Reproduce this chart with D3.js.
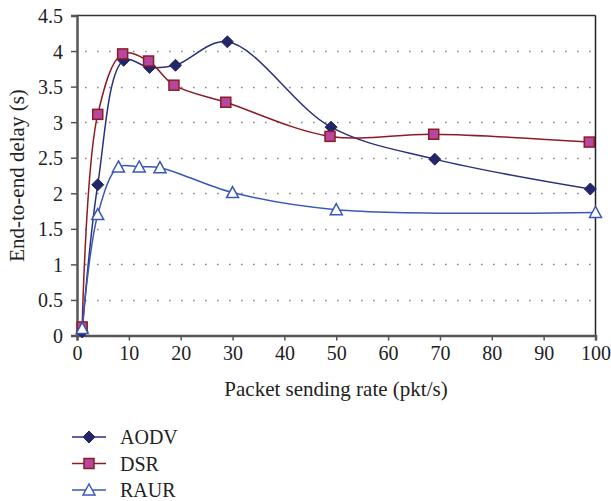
<!DOCTYPE html>
<html>
<head>
<meta charset="utf-8">
<script src="https://cdn.jsdelivr.net/npm/d3@7"></script>
<style>
  body { margin: 0; background: #fff; }
</style>
</head>
<body>
<div id="chart"></div>
<script>
// Data
const aodvX = [1, 4, 9, 14, 19, 29, 49, 69, 99];
const aodvY = [0.05, 2.12, 3.87, 3.77, 3.80, 4.13, 2.93, 2.48, 2.06];
const dsrX = [1, 4, 8.8, 13.8, 18.7, 28.7, 48.8, 68.8, 98.8];
const dsrY = [0.12, 3.11, 3.96, 3.86, 3.52, 3.28, 2.80, 2.83, 2.72];
const raurX = [1, 4, 8, 12, 16, 30, 50, 100];
const raurY = [0.10, 1.70, 2.37, 2.37, 2.36, 2.01, 1.77, 1.73];
const xTicks = [0, 10, 20, 30, 40, 50, 60, 70, 80, 90, 100];
const yTicks = [0, 0.5, 1, 1.5, 2, 2.5, 3, 3.5, 4, 4.5];
const seriesNames = ['AODV', 'DSR', 'RAUR'];

const FONT = 'Liberation Serif';
const width = 611, height = 501;
const margin = { top: 15.5, right: 15.5, bottom: 166, left: 77 };

const svg = d3.select('#chart').append('svg')
  .attr('width', width)
  .attr('height', height)
  .attr('font-family', FONT);

const x = d3.scaleLinear().domain([0, 100]).range([margin.left, width - margin.right]);
const y = d3.scaleLinear().domain([0, 4.5]).range([height - margin.bottom + 0.5, margin.top]);

// Dotted gridlines
svg.append('g')
  .selectAll('line')
  .data(yTicks.filter(d => d > 0 && d < 4.5))
  .enter()
  .append('line')
  .attr('x1', x(0) + 8)
  .attr('x2', x(100))
  .attr('y1', d => Math.round(y(d)) + 0.5)
  .attr('y2', d => Math.round(y(d)) + 0.5)
  .attr('stroke', '#888')
  .attr('stroke-width', 1.6)
  .attr('stroke-dasharray', '1.6,10.4');

// Frame: top and right
svg.append('line')
  .attr('x1', x(0)).attr('x2', x(100))
  .attr('y1', y(4.5)).attr('y2', y(4.5))
  .attr('stroke', '#333').attr('stroke-width', 1.5);
svg.append('line')
  .attr('x1', x(100)).attr('x2', x(100))
  .attr('y1', y(4.5)).attr('y2', y(0))
  .attr('stroke', '#222').attr('stroke-width', 1.5);

// Axes
const xAxis = svg.append('g')
  .attr('transform', `translate(0,${y(0)})`)
  .call(d3.axisBottom(x).tickValues(xTicks).tickSize(5).tickPadding(5));
const yAxis = svg.append('g')
  .attr('transform', `translate(${x(0)},0)`)
  .call(d3.axisLeft(y).tickValues(yTicks).tickSize(6).tickPadding(8).tickFormat(d3.format('')));

[xAxis, yAxis].forEach(ax => {
  ax.attr('font-family', FONT);
  ax.selectAll('path').attr('stroke', '#555').attr('stroke-width', 2.5);
  ax.selectAll('line').attr('stroke', '#555').attr('stroke-width', 1.5);
  ax.selectAll('text')
    .attr('fill', '#222')
    .attr('font-family', FONT)
    .attr('font-size', '20px');
});
yAxis.selectAll('text').attr('dy', '0.35em');

// Axis titles
svg.append('text')
  .attr('x', 336)
  .attr('y', 396)
  .attr('text-anchor', 'middle')
  .attr('fill', '#222')
  .attr('font-family', FONT)
  .attr('font-size', '21px')
  .text('Packet sending rate (pkt/s)');

svg.append('text')
  .attr('transform', `translate(24,${y(2.25)}) rotate(-90)`)
  .attr('text-anchor', 'middle')
  .attr('fill', '#222')
  .attr('font-family', FONT)
  .attr('font-size', '21px')
  .text('End-to-end delay (s)');

// Series
const series = [
  { name: 'AODV', xs: aodvX, ys: aodvY, line: '#2b2f80', marker: 'diamond', fill: '#232768', stroke: '#232768' },
  { name: 'DSR', xs: dsrX, ys: dsrY, line: '#8c1c24', marker: 'square', fill: '#b5479e', stroke: '#8c1c24' },
  { name: 'RAUR', xs: raurX, ys: raurY, line: '#3a57b8', marker: 'triangle', fill: '#fff', stroke: '#3a57b8' }
];

const line = d3.line()
  .x(d => x(d[0]))
  .y(d => y(d[1]))
  .curve(d3.curveCatmullRom.alpha(0.5));

function drawMarker(g, type, cx, cy, s) {
  if (type === 'diamond') {
    g.append('path')
      .attr('d', `M${cx},${cy - 6}L${cx + 6},${cy}L${cx},${cy + 6}L${cx - 6},${cy}Z`)
      .attr('fill', s.fill).attr('stroke', s.stroke).attr('stroke-width', 1);
  } else if (type === 'square') {
    g.append('rect')
      .attr('x', cx - 5).attr('y', cy - 5)
      .attr('width', 10).attr('height', 10)
      .attr('fill', s.fill).attr('stroke', s.stroke).attr('stroke-width', 1.5);
  } else {
    g.append('path')
      .attr('d', `M${cx},${cy - 6}L${cx + 6},${cy + 5}L${cx - 6},${cy + 5}Z`)
      .attr('fill', s.fill).attr('stroke', s.stroke).attr('stroke-width', 1.5);
  }
}

series.forEach(s => {
  const pts = s.xs.map((v, i) => [v, s.ys[i]]);
  svg.append('path')
    .datum(pts)
    .attr('d', line)
    .attr('fill', 'none')
    .attr('stroke', s.line)
    .attr('stroke-width', 1.5);
});

series.forEach(s => {
  const g = svg.append('g');
  s.xs.forEach((v, i) => drawMarker(g, s.marker, x(v), y(s.ys[i]), s));
});

// Legend
const legend = svg.append('g');
series.forEach((s, i) => {
  const ly = 437 + i * 26.5;
  legend.append('line')
    .attr('x1', 72).attr('x2', 106)
    .attr('y1', ly).attr('y2', ly)
    .attr('stroke', s.line).attr('stroke-width', 1.5);
  drawMarker(legend, s.marker, 89, ly, s);
  legend.append('text')
    .attr('x', 120)
    .attr('y', ly)
    .attr('dy', '0.35em')
    .attr('fill', '#222')
    .attr('font-family', FONT)
    .attr('font-size', '20px')
    .text(seriesNames[i]);
});
</script>
</body>
</html>
